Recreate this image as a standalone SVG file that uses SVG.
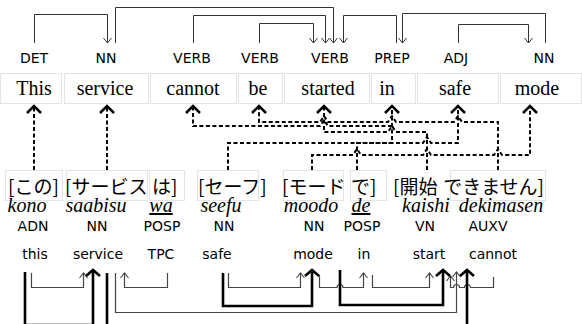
<svg xmlns="http://www.w3.org/2000/svg" width="582" height="324" viewBox="0 0 582 324">
<defs>
<style>
.box{fill:none;stroke:#e4e4e4;stroke-width:1}
.lbl{font-family:"DejaVu Sans",sans-serif;font-size:14px;fill:#000;text-anchor:middle}
.en{font-family:"Liberation Serif",serif;font-size:20px;fill:#000;text-anchor:middle}
.ja{font-family:"Noto Sans CJK JP",sans-serif;font-size:19px;fill:#000}
.rom{font-family:"Liberation Serif",serif;font-style:italic;font-size:20px;fill:#000;text-anchor:middle}
.dep{fill:none;stroke:#333;stroke-width:1}
.al{fill:none;stroke:#000;stroke-width:2;stroke-dasharray:4 2.5}
.thin{fill:none;stroke:#444;stroke-width:1.2}
.thick{fill:none;stroke:#000;stroke-width:2.6}
</style>
<marker id="mTop" markerUnits="userSpaceOnUse" orient="auto" markerWidth="12" markerHeight="12" overflow="visible"><path d="M-5,-4 L0,0 L-5,4" fill="none" stroke="#333" stroke-width="1"/></marker>
<marker id="mBig" markerUnits="userSpaceOnUse" orient="auto" markerWidth="16" markerHeight="16" overflow="visible"><path d="M-7,-7 L0,0 L-7,7" fill="none" stroke="#000" stroke-width="2.5" stroke-dasharray="none"/></marker>
<marker id="mThin" markerUnits="userSpaceOnUse" orient="auto" markerWidth="12" markerHeight="12" overflow="visible"><path d="M-5,-4 L0,0 L-5,4" fill="none" stroke="#444" stroke-width="1.1"/></marker>
<marker id="mThick" markerUnits="userSpaceOnUse" orient="auto" markerWidth="16" markerHeight="16" overflow="visible"><path d="M-6,-7 L0,0 L-6,7" fill="none" stroke="#000" stroke-width="2.6"/></marker>
</defs>
<rect width="582" height="324" fill="#fff"/>

<!-- English tokens -->
<g id="en-this"><rect class="box" x="0.5" y="73.5" width="61" height="30"/><text class="lbl" x="34" y="63">DET</text><text class="en" x="34" y="95">This</text></g>
<g id="en-service"><rect class="box" x="64.5" y="73.5" width="84" height="30"/><text class="lbl" x="106" y="63">NN</text><text class="en" x="105" y="95">service</text></g>
<g id="en-cannot"><rect class="box" x="150.5" y="73.5" width="86" height="30"/><text class="lbl" x="192" y="63">VERB</text><text class="en" x="193" y="95">cannot</text></g>
<g id="en-be"><rect class="box" x="238.5" y="73.5" width="44" height="30"/><text class="lbl" x="260" y="63">VERB</text><text class="en" x="258" y="95">be</text></g>
<g id="en-started"><rect class="box" x="284.5" y="73.5" width="85" height="30"/><text class="lbl" x="330" y="63">VERB</text><text class="en" x="328" y="95">started</text></g>
<g id="en-in"><rect class="box" x="371.5" y="73.5" width="44" height="30"/><text class="lbl" x="392" y="63">PREP</text><text class="en" x="387" y="95">in</text></g>
<g id="en-safe"><rect class="box" x="417.5" y="73.5" width="81" height="30"/><text class="lbl" x="456" y="63">ADJ</text><text class="en" x="455" y="95">safe</text></g>
<g id="en-mode"><rect class="box" x="500.5" y="73.5" width="81" height="30"/><text class="lbl" x="544" y="63">NN</text><text class="en" x="537" y="95">mode</text></g>

<!-- Japanese tokens -->
<g id="ja-kono"><rect class="box" x="5.5" y="170.5" width="57" height="30"/><text class="ja" x="8" y="194">[この]</text><text class="rom" x="27" y="212">kono</text><text class="lbl" x="33" y="231">ADN</text><text class="lbl" x="35" y="259">this</text></g>
<g id="ja-saabisu"><rect class="box" x="66.5" y="170.5" width="81" height="30"/><text class="ja" x="65" y="194">[サービス</text><text class="rom" x="96" y="212">saabisu</text><text class="lbl" x="97" y="231">NN</text><text class="lbl" x="98" y="259">service</text></g>
<g id="ja-wa"><rect class="box" x="149.5" y="170.5" width="35" height="30"/><text class="ja" x="152" y="194">は]</text><text class="rom" x="161" y="212" text-decoration="underline">wa</text><text class="lbl" x="162" y="231">POSP</text><text class="lbl" x="161" y="259">TPC</text></g>
<g id="ja-seefu"><rect class="box" x="197.5" y="170.5" width="61" height="30"/><text class="ja" x="198" y="194">[セーフ]</text><text class="rom" x="221" y="212">seefu</text><text class="lbl" x="224" y="231">NN</text><text class="lbl" x="217" y="259">safe</text></g>
<g id="ja-moodo"><rect class="box" x="283.5" y="170.5" width="60" height="30"/><text class="ja" x="282" y="194">[モード</text><text class="rom" x="311" y="212">moodo</text><text class="lbl" x="314" y="231">NN</text><text class="lbl" x="313" y="259">mode</text></g>
<g id="ja-de"><rect class="box" x="350.5" y="170.5" width="36" height="30"/><text class="ja" x="351" y="194">で]</text><text class="rom" x="361" y="212" text-decoration="underline">de</text><text class="lbl" x="362" y="231">POSP</text><text class="lbl" x="364" y="259">in</text></g>
<g id="ja-kaishi"><text class="ja" x="393" y="194">[開始</text><text class="rom" x="426" y="212">kaishi</text><text class="lbl" x="425" y="231">VN</text><text class="lbl" x="429" y="259">start</text></g>
<g id="ja-dekimasen"><rect class="box" x="450.5" y="170.5" width="95" height="30"/><text class="ja" x="544" y="194" text-anchor="end">できません]</text><text class="rom" x="501" y="212">dekimasen</text><text class="lbl" x="488" y="231">AUXV</text><text class="lbl" x="493" y="259">cannot</text></g>

<g id="connectors">
<g id="en-deps">
<path class="dep" d="M34.5,43 V14.5 H107.5 V43" marker-end="url(#mTop)"/>
<path class="dep" d="M115.5,43 V7.5 H333.5 V43" marker-end="url(#mTop)"/>
<path class="dep" d="M193.5,43 V15.5 H325.5 V43" marker-end="url(#mTop)"/>
<path class="dep" d="M259.5,43 V23.5 H313.5 V43" marker-end="url(#mTop)"/>
<path class="dep" d="M396.5,43 V15.5 H343.5 V43" marker-end="url(#mTop)"/>
<path class="dep" d="M545.5,43 V13.5 H402.5 V43" marker-end="url(#mTop)"/>
<path class="dep" d="M458.5,43 V24.5 H528.5 V43" marker-end="url(#mTop)"/>
</g>
<g id="alignments">
<path class="al" d="M34,170 V106" marker-end="url(#mBig)"/>
<path class="al" d="M107,170 V106" marker-end="url(#mBig)"/>
<path class="al" d="M392,126 H328 L324,120 L320,126 H193 V106" marker-end="url(#mBig)"/>
<path class="al" d="M498,170 V122 H462 L458,116 L454,122 H396 L392,116 L388,122 H328 L324,116 L320,122 H259 V106" marker-end="url(#mBig)"/>
<path class="al" d="M427,170 V132 H396 L392,126 L388,132 H324 V106" marker-end="url(#mBig)"/>
<path class="al" d="M228,170 V143 H423 L427,137 L431,143 H458 V106" marker-end="url(#mBig)"/>
<path class="al" d="M357,170 V143 H392 V106" marker-end="url(#mBig)"/>
<path class="al" d="M312,170 V155 H353 L357,149 L361,155 H423 L427,149 L431,155 H494 L498,149 L502,155 H530 V106" marker-end="url(#mBig)"/>
</g>
<g id="ja-deps">
<path class="thin" d="M31.5,273 V287.5 H83.5 V273" marker-end="url(#mThin)"/>
<path class="thin" d="M167.5,273 V287.5 H124.5 V273" marker-end="url(#mThin)"/>
<path class="thin" d="M228.5,273 V287.5 H300.5 V273" marker-end="url(#mThin)"/>
<path class="thin" d="M319.5,275 V287.5 H337 A3,3 0 0 1 343,287.5 H363.5 V273" marker-end="url(#mThin)"/>
<path class="thin" d="M372.5,275 V287.5 H429.5 V273" marker-end="url(#mThin)"/>
<path class="thin" d="M115.5,273 V312.5 H456.5 V272" marker-end="url(#mThin)"/>
<path class="thin" d="M493.5,277 V287.5 H470.5 A3,3 0 0 0 464.5,287.5 H459.5 A3,3 0 0 0 453.5,287.5 H450.5 V276" marker-end="url(#mThin)"/>
<path class="thick" d="M25,272 V325 H93 V270" marker-end="url(#mThick)"/>
<path class="thick" d="M107,273 V330"/>
<path class="thick" d="M223,273 V306 H312 V270" marker-end="url(#mThick)"/>
<path class="thick" d="M340,270 V305 H443 V270" marker-end="url(#mThick)"/>
<path class="thick" d="M467,330 V270" marker-end="url(#mThick)"/>
</g>
</g>
</svg>
